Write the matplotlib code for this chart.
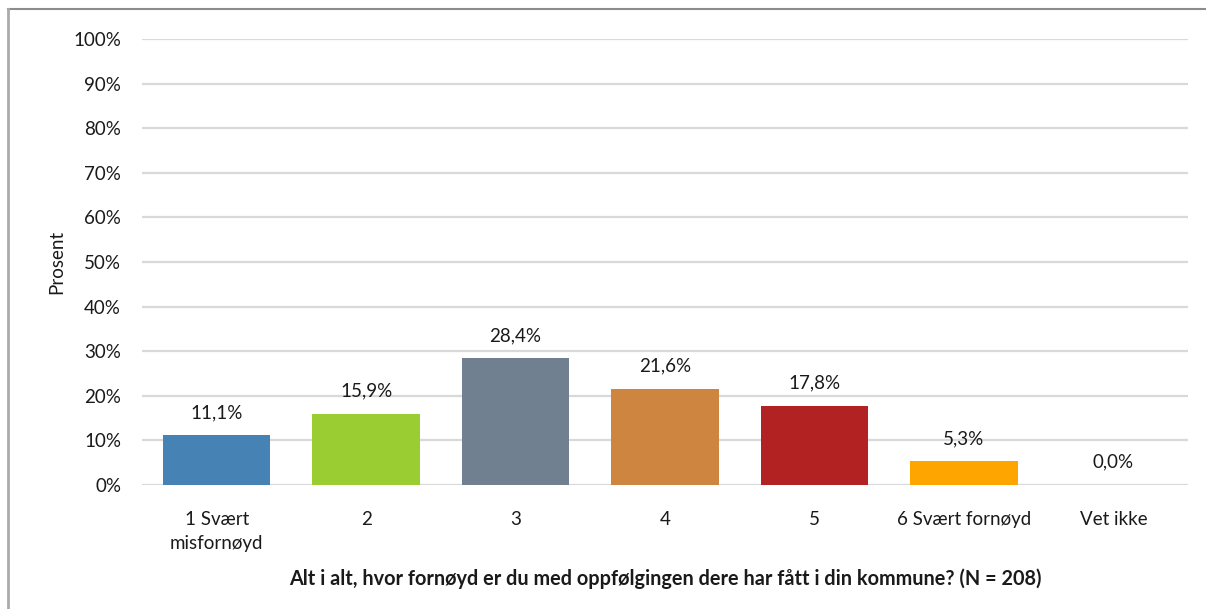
import matplotlib
matplotlib.use("Agg")
import matplotlib.pyplot as plt
from matplotlib.lines import Line2D

plt.rcParams['font.family'] = ['Lato', 'DejaVu Sans']

kategorier = ["1 Svært\nmisfornøyd", "2", "3", "4", "5", "6 Svært fornøyd", "Vet ikke"]
verdier = [11.1, 15.9, 28.4, 21.6, 17.8, 5.3, 0.0]
farger = ["#4682B4", "#9ACD32", "#708090", "#CD853F", "#B22222", "#FFA500", "#6495ED"]
yticks = list(range(0, 101, 10))

fs = 13.5  # tekststørrelse
tekstfarge = "#1a1a1a"

fig = plt.figure(figsize=(12.06, 6.09), dpi=100)
ax = fig.add_axes([0.1177, 0.2036, 0.8675, 0.7324])

x = range(len(kategorier))
ax.bar(x, verdier, width=0.72, color=farger, zorder=3)

# verdier over søylene
for xi, v in zip(x, verdier):
    ax.text(xi, v + 3.2, f"{v:.1f}%".replace(".", ","), ha="center", va="bottom",
            fontsize=fs, color=tekstfarge, zorder=4)

ax.set_xlim(-0.5, len(kategorier) - 0.5)
ax.set_ylim(0, 100)
ax.set_yticks(yticks)
ax.set_yticklabels([f"{t}%" for t in yticks], fontsize=fs, color=tekstfarge)
ax.set_xticks(list(x))
ax.set_xticklabels(kategorier, fontsize=fs, color=tekstfarge, linespacing=1.45)
ax.tick_params(axis="both", length=0)
ax.tick_params(axis="y", pad=15)
ax.tick_params(axis="x", pad=19)
ax.yaxis.grid(True, color="#D9D9D9", linewidth=1.6, zorder=0)
for s in ax.spines.values():
    s.set_visible(False)

ax.set_ylabel("Prosent", fontsize=fs, color=tekstfarge, labelpad=6)
ax.set_xlabel("Alt i alt, hvor fornøyd er du med oppfølgingen dere har fått i din kommune? (N = 208)",
              fontsize=14.3, fontweight="bold", color=tekstfarge, labelpad=12)

# ramme (bare topp og venstre synlig)
x0 = 7.5 / 1206
y0 = 1 - 8.5 / 609
fig.lines.append(Line2D([x0, 1], [y0, y0], transform=fig.transFigure, color="#8C8C8C", linewidth=1.5))
fig.lines.append(Line2D([x0, x0], [0, y0], transform=fig.transFigure, color="#ABABAB", linewidth=2))

fig.savefig("out.png", dpi=100)
